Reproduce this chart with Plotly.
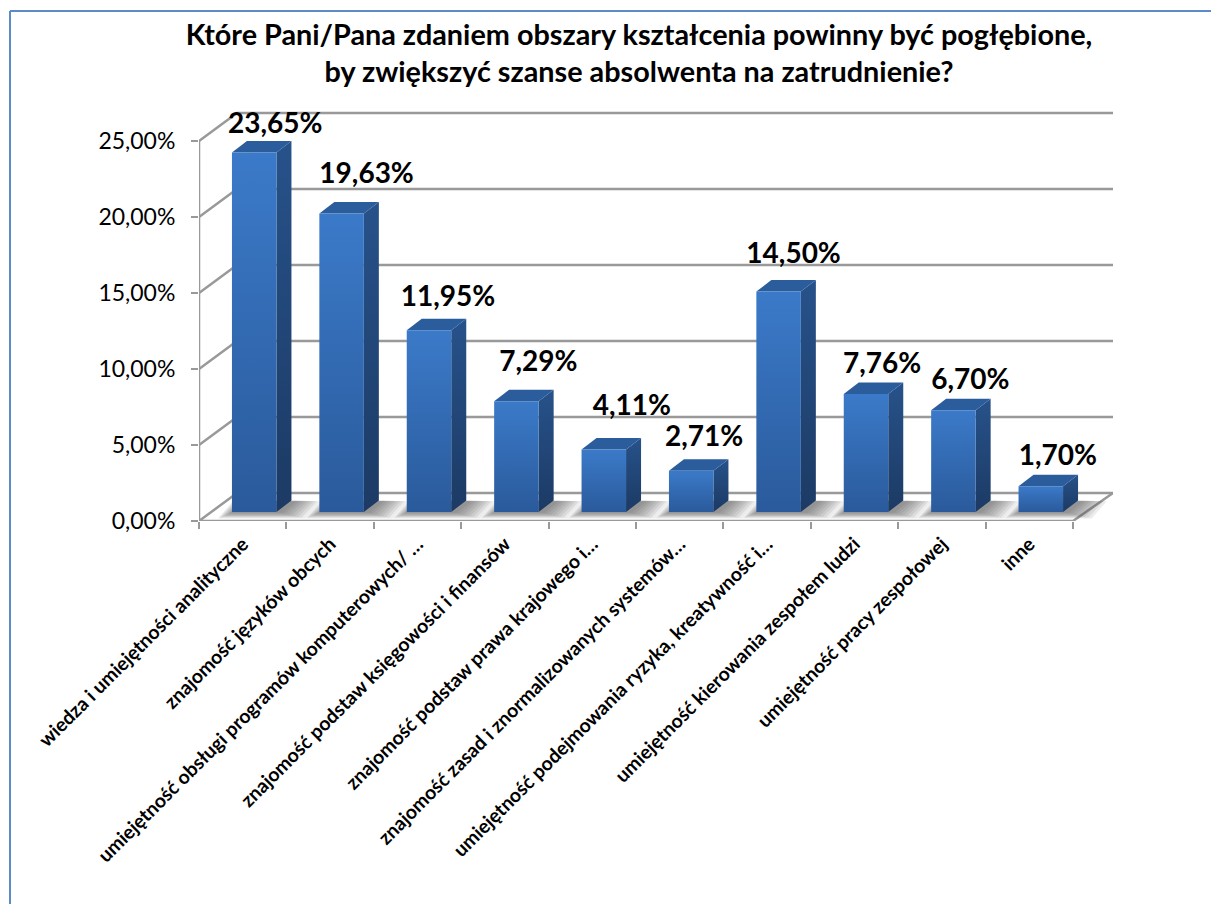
import plotly.graph_objects as go

# ---- data ----
categories = [
    "wiedza i umiejętności analityczne",
    "znajomość języków obcych",
    "umiejętność obsługi programów komputerowych/ …",
    "znajomość podstaw księgowości i finansów",
    "znajomość podstaw prawa krajowego i…",
    "znajomość zasad i znormalizowanych systemów…",
    "umiejętność podejmowania ryzyka, kreatywność i…",
    "umiejętność kierowania zespołem ludzi",
    "umiejętność pracy zespołowej",
    "inne",
]
values = [23.65, 19.63, 11.95, 7.29, 4.11, 2.71, 14.50, 7.76, 6.70, 1.70]
y_ticks = [0, 5, 10, 15, 20, 25]
y_tick_labels = ["0,00%", "5,00%", "10,00%", "15,00%", "20,00%", "25,00%"]
value_labels = ["23,65%", "19,63%", "11,95%", "7,29%", "4,11%", "2,71%", "14,50%", "7,76%", "6,70%", "1,70%"]
title_line_1 = "Które Pani/Pana zdaniem obszary kształcenia powinny być pogłębione,"
title_line_2 = "by zwiększyć szanse absolwenta na zatrudnienie?"

# ---- geometry (pixels per data unit, 3D offsets) ----
W, H = 1211, 904
PLOT_L, PLOT_R, PLOT_T, PLOT_B = 199, 1113, 100, 521
PX_X = 87.4
PX_Y = 15.2
wall_dx, wall_dy = 38 / PX_X, 28 / PX_Y
bar_off_x, bar_off_y = 11.5 / PX_X, 9 / PX_Y
bar_w = 44.5 / PX_X
depth_dx, depth_dy = 15 / PX_X, 11.5 / PX_Y
label_dx_px = [21, 25, 19, 22, 28, 13, 15, 16, 17, 17]
label_dy_px = [27, 38, 31, 37, 42, 32, 36, 28, 28, 28]

GRID = "#999999"
FONT = "Lato"
n = len(values)
x_left = -0.5
x_right = x_left + (PLOT_R - PLOT_L) / PX_X
y_top = (PLOT_B - PLOT_T) / PX_Y

fig = go.Figure()

# walls: gridlines on back wall, diagonals on the side wall, floor edges
gx, gy = [], []
for t in y_ticks:
    gx += [x_left, x_left + wall_dx, x_right, None]
    gy += [t, t + wall_dy, t + wall_dy, None]
gx += [x_left, x_left, None, x_left, n - 0.5, x_right, None]
gy += [0, 25, None, 0, 0, wall_dy, None]
fig.add_trace(go.Scatter(x=gx, y=gy, mode="lines", line=dict(color=GRID, width=2.5),
                         hoverinfo="skip", showlegend=False))

# soft floor shadows
for i in range(n):
    xl = i + bar_off_x - bar_w / 2
    xr = xl + bar_w
    y0 = bar_off_y
    for k in range(8, 0, -1):
        ex, ey = (k * 3.2 + 1) / PX_X, (k * 0.8) / PX_Y
        sx = 2 / PX_X
        px = [xl - ex * 0.6 + sx, xr + ex + sx, xr + ex + sx + depth_dx, xl - ex * 0.6 + sx + depth_dx]
        py = [y0 - ey, y0 - ey, y0 + depth_dy - ey * 0.1, y0 + depth_dy - ey * 0.1]
        fig.add_trace(go.Scatter(x=px + px[:1], y=py + py[:1], mode="lines", fill="toself",
                                 fillcolor="rgba(80,80,80,0.11)", line=dict(width=0),
                                 hoverinfo="skip", showlegend=False))

# bars: front, side and top faces
for i, v in enumerate(values):
    xl = i + bar_off_x - bar_w / 2
    xr = xl + bar_w
    y0 = bar_off_y
    y1 = y0 + v
    fig.add_trace(go.Scatter(
        x=[xr, xr + depth_dx, xr + depth_dx, xr, xr],
        y=[y0, y0 + depth_dy, y1 + depth_dy, y1, y0],
        mode="lines", fill="toself", line=dict(width=0),
        fillgradient=dict(type="vertical", colorscale=[[0, "#1C3A64"], [1, "#27528A"]]),
        hoverinfo="skip", showlegend=False))
    fig.add_trace(go.Scatter(
        x=[xl, xr, xr + depth_dx, xl + depth_dx, xl],
        y=[y1, y1, y1 + depth_dy, y1 + depth_dy, y1],
        mode="lines", fill="toself", fillcolor="#2B5C9C", line=dict(width=0),
        hoverinfo="skip", showlegend=False))
    fig.add_trace(go.Scatter(
        x=[xl, xr, xr, xl, xl],
        y=[y0, y0, y1, y1, y0],
        mode="lines", fill="toself", line=dict(width=0),
        fillgradient=dict(type="vertical", colorscale=[[0, "#2A5A9B"], [1, "#3B7AC9"]]),
        hovertemplate=categories[i] + ": " + value_labels[i] + "<extra></extra>",
        showlegend=False))

# value labels
fig.add_trace(go.Scatter(
    x=[i + bar_off_x + label_dx_px[i] / PX_X for i in range(n)],
    y=[values[i] + bar_off_y + label_dy_px[i] / PX_Y for i in range(n)],
    mode="text", text=value_labels, textposition="middle center",
    textfont=dict(family=FONT, size=28, color="#000000", weight="bold"),
    cliponaxis=False, hoverinfo="skip", showlegend=False))

def paper_x(px):
    return (px - PLOT_L) / (PLOT_R - PLOT_L)

def paper_y(py):
    return (PLOT_B - py) / (PLOT_B - PLOT_T)

fig.update_layout(
    width=W, height=H, autosize=False,
    margin=dict(l=PLOT_L, r=W - PLOT_R, t=PLOT_T, b=H - PLOT_B, pad=0),
    paper_bgcolor="white", plot_bgcolor="white",
    showlegend=False,
    title=dict(
        text="<b>" + title_line_1 + "<br>" + title_line_2 + "</b>",
        x=639 / W, xanchor="center", y=1 - 45 / H, yanchor="top",
        font=dict(family=FONT, size=28.8, color="#000000"),
    ),
    xaxis=dict(
        range=[x_left, x_right], showgrid=False, zeroline=False, showline=False,
        tickmode="array", tickvals=list(range(n)), ticktext=categories,
        ticks="", tickangle=-45, ticklabelstandoff=7,
        tickfont=dict(family=FONT, size=19.4, color="#000000", weight="bold"),
        minor=dict(tickmode="array", tickvals=[i - 0.5 for i in range(n + 1)],
                   ticks="outside", ticklen=7, tickwidth=2, tickcolor=GRID, showgrid=False),
        automargin=False,
    ),
    yaxis=dict(
        range=[0, y_top], showgrid=False, zeroline=False, showline=False,
        tickmode="array", tickvals=y_ticks, ticktext=y_tick_labels,
        ticks="outside", ticklen=7, tickwidth=2, tickcolor=GRID, ticklabelstandoff=11,
        tickfont=dict(family=FONT, size=23, color="#000000"),
        automargin=False,
    ),
    shapes=[
        dict(type="line", xref="paper", yref="paper",
             x0=paper_x(10), x1=paper_x(10), y0=paper_y(11), y1=paper_y(H),
             line=dict(color="#5B8CC8", width=2)),
        dict(type="line", xref="paper", yref="paper",
             x0=paper_x(10), x1=paper_x(W), y0=paper_y(11), y1=paper_y(11),
             line=dict(color="#5B8CC8", width=2)),
    ],
)

fig.write_html("out.html", config={"displayModeBar": False},
               post_script="document.body.style.margin='0';document.body.style.overflow='hidden';")
